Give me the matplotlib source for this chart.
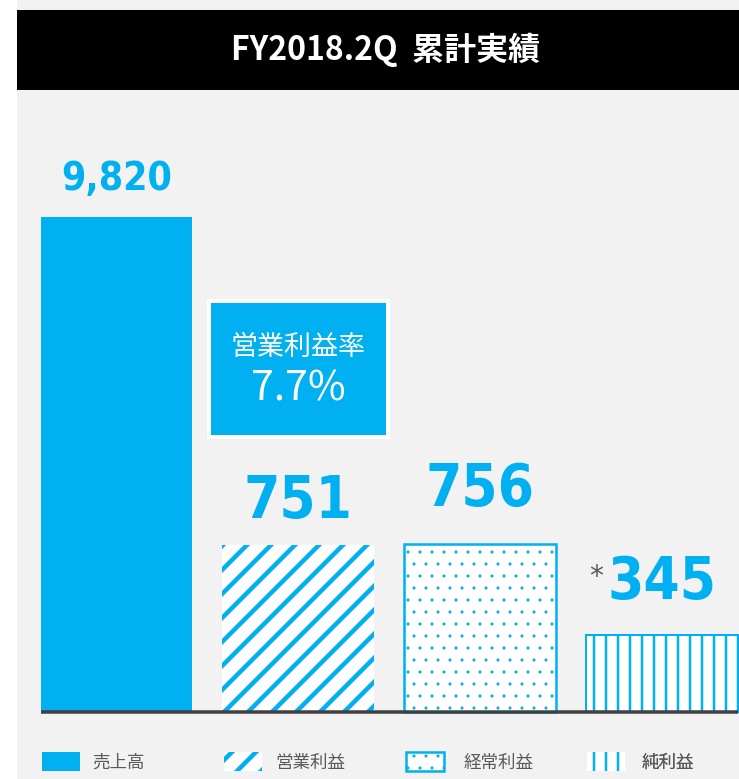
import matplotlib
matplotlib.use("Agg")
import matplotlib.pyplot as plt
import matplotlib.patches as mpatches
import matplotlib.transforms as mtransforms
import numpy as np

plt.rcParams['font.family'] = ['Noto Sans CJK JP', 'DejaVu Sans']

# --- data ---
categories = ['売上高', '営業利益', '経常利益', '純利益']
values = [9820, 751, 756, 345]
value_labels = ['9,820', '751', '756', '345']
value_prefix = ['', '', '', '*']
margin_label = '営業利益率'
margin_value = '7.7%'
title = 'FY2018.2Q  累計実績'

# --- look ---
DPI = 72           # hatch tile is one inch, so dpi sets the stripe spacing
W, H = 739, 779
CYAN = '#00b0f0'
PANEL = '#f2f2f2'
TEXT_GRAY = '#595959'


def pt(px):
    return px * 72 / DPI


# upper part of the value axis is compressed so the small bars stay readable
BREAK = 1000
UPPER_RATIO = 0.1394


def fwd(v):
    v = np.asarray(v, dtype=float)
    return np.where(v <= BREAK, v, BREAK + (v - BREAK) * UPPER_RATIO)


def inv(u):
    u = np.asarray(u, dtype=float)
    return np.where(u <= BREAK, u, BREAK + (u - BREAK) / UPPER_RATIO)


bar_styles = [
    dict(facecolor=CYAN, edgecolor=CYAN, hatch=None, linewidth=0, hlw=1),
    dict(facecolor='white', edgecolor=CYAN, hatch='/', linewidth=0, hlw=4.5),
    dict(facecolor='white', edgecolor=CYAN, hatch='.', linewidth=2.5, hlw=0.6),
    dict(facecolor='white', edgecolor=CYAN, hatch='|', linewidth=2, hlw=2.5),
]
label_px = [39, 58, 58, 58]
label_gap = [27, 27, 38, 36]
legend_pads = [0.7, 0.75, 1.15, 0.95]
BAR_W = 0.8365

fig = plt.figure(figsize=(W / DPI, H / DPI), dpi=DPI, facecolor='white')
ax = fig.add_axes([17 / W, 0, 1 - 17 / W, 1])
ax.set_facecolor(PANEL)
for s in ax.spines.values():
    s.set_visible(False)
ax.set_yscale('function', functions=(fwd, inv))

x = np.arange(len(values))


def set_hlw(patch, hlw):
    if hasattr(patch, 'set_hatch_linewidth'):
        patch.set_hatch_linewidth(pt(hlw))


def make_patch(style, maker, *args, **kw):
    st = dict(style)
    hlw = st.pop('hlw')
    lw = st.pop('linewidth')
    with plt.rc_context({'hatch.linewidth': pt(hlw)}):
        p = maker(*args, linewidth=pt(lw), **st, **kw)
    return p, hlw


for i in range(len(values)):
    bars, hlw = make_patch(bar_styles[i], ax.bar, x[i], values[i], width=BAR_W, zorder=2)
    for b in bars:
        set_hlw(b, hlw)

# baseline
ax.hlines(0, x[0] - BAR_W / 2, x[-1] + BAR_W / 2, color='#404040', linewidth=pt(3.5), zorder=3)

# value labels
for i in range(len(values)):
    t = ax.annotate(value_labels[i], xy=(x[i], values[i]), xytext=(0, pt(label_gap[i])),
                    textcoords='offset points', ha='center', va='baseline',
                    color=CYAN, fontsize=pt(label_px[i]), fontweight='bold',
                    family=['DejaVu Sans'], fontstretch='condensed', zorder=4)
    if value_prefix[i]:
        ax.annotate(value_prefix[i], xy=(0, 0.6), xycoords=t, xytext=(-pt(4), 0),
                    textcoords='offset points', ha='right', va='center',
                    color=TEXT_GRAY, fontsize=pt(28), family=['DejaVu Sans'])

# operating margin box above the 営業利益 bar
blend = mtransforms.blended_transform_factory(ax.transData, ax.transAxes)
ax.add_patch(mpatches.Rectangle((x[1] - 0.4925, 0.439), 0.985, 0.1746, transform=blend,
                                facecolor=CYAN, edgecolor='white', linewidth=pt(4), zorder=5))
ax.text(x[1], 0.5443, margin_label, transform=blend, ha='center', va='baseline',
        color='white', fontsize=pt(27), zorder=6)
ax.text(x[1], 0.4865, margin_value, transform=blend, ha='center', va='baseline',
        color='white', fontsize=pt(41), zorder=6)

# legend, one entry under each bar
for i in range(len(values)):
    handle, hlw = make_patch(bar_styles[i], mpatches.Patch)
    if i == 3:
        handle.set_linewidth(0)
    set_hlw(handle, hlw)
    with plt.rc_context({'hatch.linewidth': pt(hlw)}):
        leg = ax.legend(handles=[handle], labels=[categories[i]], loc='center left',
                        bbox_to_anchor=(x[i] - BAR_W / 2 + 0.01, 0.0218), bbox_transform=blend,
                        frameon=False, prop={'family': ['Noto Sans CJK JP'], 'size': pt(17.5)},
                        handlelength=38 / 17.5, handleheight=22 / 17.5,
                        handletextpad=legend_pads[i], borderpad=0, borderaxespad=0,
                        labelcolor=TEXT_GRAY)
    for p in leg.get_patches():
        set_hlw(p, hlw)
    ax.add_artist(leg)

ax.set_xlim(-0.5476, 3.426)
ax.set_ylim(-304, 16818)
ax.set_xticks([])
ax.set_yticks([])

# title bar
tax = fig.add_axes([17 / W, (H - 90) / H, 1 - 17 / W, 80 / H])
tax.set_facecolor('black')
for s in tax.spines.values():
    s.set_visible(False)
tax.set_xticks([])
tax.set_yticks([])
tax.text(0.511, 0.5, title, ha='center', va='center', color='white',
         fontsize=pt(32), fontweight='bold', transform=tax.transAxes)

fig.savefig('out.png', dpi=DPI, facecolor=fig.get_facecolor())
